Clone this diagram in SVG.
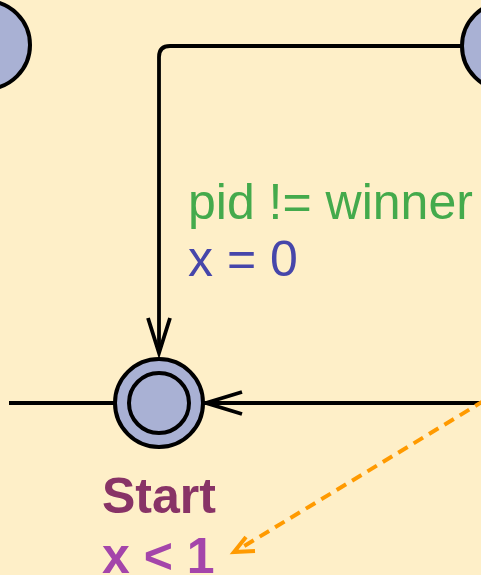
<svg xmlns="http://www.w3.org/2000/svg" width="481" height="575" viewBox="0 0 481 575">
  <style>
    .loc { fill: #A9B1D4; stroke: #000; stroke-width: 4; }
    .edge { fill: none; stroke: #000; stroke-width: 3.8; }
    .head { fill: none; stroke: #000; stroke-width: 3.8; stroke-linejoin: miter; stroke-miterlimit: 10; }
    .note { fill: none; stroke: #FF9A00; stroke-width: 4; }
    .lbl { font-family: "Liberation Sans", Arial, sans-serif; font-size: 50px; }
  </style>
  <rect x="0" y="0" width="481" height="575" fill="#FEEFC8"/>
  <g id="connectors">
    <path class="edge" d="M462,46 H170 Q159,46 159,57 V352"/>
    <polyline class="head" points="148,318 159,353 170,318"/>
    <line class="edge" x1="9" y1="403" x2="115" y2="403"/>
    <line class="edge" x1="203" y1="403" x2="481" y2="403"/>
    <polyline class="head" points="242,392 206,403 242,414"/>
    <line class="note" x1="500" y1="391" x2="236" y2="551" stroke-dasharray="11,7"/>
    <polyline class="note" points="246,537 234,552 255,551" stroke-linejoin="miter"/>
  </g>
  <g id="node-left">
    <circle class="loc" cx="-14" cy="45" r="44"/>
  </g>
  <g id="node-right">
    <circle class="loc" cx="506" cy="46" r="44"/>
  </g>
  <g id="node-start">
    <circle class="loc" cx="159" cy="403" r="44"/>
    <circle class="loc" cx="159" cy="403" r="30"/>
    <text class="lbl" x="102" y="513" font-weight="bold" fill="#883366">Start</text>
    <text class="lbl" x="102" y="573" font-weight="bold" fill="#A445AA">x &lt; 1</text>
  </g>
  <g id="edge-label">
    <text class="lbl" x="188" y="219" fill="#44AA4C">pid != winner</text>
    <text class="lbl" x="188" y="276" fill="#4646AA">x = 0</text>
  </g>
</svg>
